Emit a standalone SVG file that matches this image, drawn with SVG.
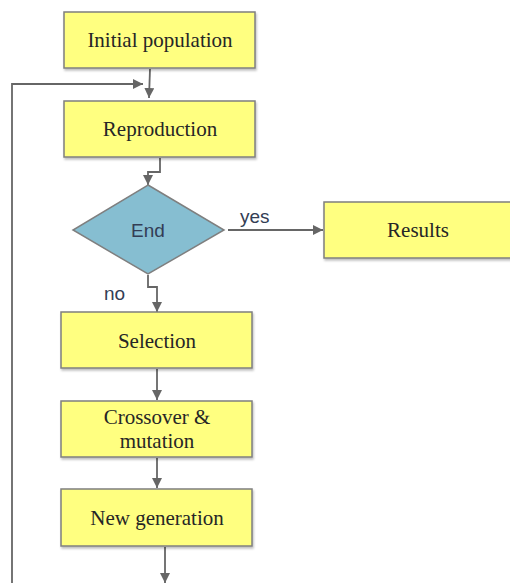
<svg xmlns="http://www.w3.org/2000/svg" width="510" height="583" viewBox="0 0 510 583">
<defs>
<marker id="arr" viewBox="0 0 10 10" refX="10" refY="5" markerWidth="10" markerHeight="10" markerUnits="userSpaceOnUse" orient="auto">
<path d="M0,0 L10,5 L0,10 z" fill="#666666"/>
</marker>
<filter id="sh" x="-5%" y="-5%" width="115%" height="125%">
<feDropShadow dx="1" dy="2" stdDeviation="1" flood-color="#000" flood-opacity="0.25"/>
</filter>
</defs>
<style>
.box{fill:#ffff80;stroke:#7f7f7f;stroke-width:1.5;filter:url(#sh)}
.dia{fill:#86bed1;stroke:#7f7f7f;stroke-width:1.5}
.lbl{font-family:"Liberation Serif",serif;font-size:21px;fill:#262626;text-anchor:middle}
.sans{font-family:"Liberation Sans",Arial,sans-serif;font-size:19px;fill:#333d55}
.conn{fill:none;stroke:#666666;stroke-width:1.8;marker-end:url(#arr)}
</style>
<g id="connectors">
<path class="conn" d="M150,69 L149,98"/>
<path class="conn" d="M12,583 L12,84 L143,84"/>
<path class="conn" d="M160,158 L160,172 L148,172 L148,185"/>
<path class="conn" d="M228,230 L323,230"/>
<path class="conn" d="M148,275 L148,287 L157,287 L157,312"/>
<path class="conn" d="M157,369 L157,400"/>
<path class="conn" d="M157,458 L157,488"/>
<path class="conn" d="M165,547 L165,583"/>
<text class="sans" x="240" y="223">yes</text>
<text class="sans" x="104" y="300">no</text>
</g>
<g id="initial">
<rect class="box" x="64" y="12" width="191" height="56"/>
<text class="lbl" x="160" y="47">Initial population</text>
</g>
<g id="reproduction">
<rect class="box" x="64" y="101" width="191" height="56"/>
<text class="lbl" x="160" y="136">Reproduction</text>
</g>
<g id="end">
<polygon class="dia" points="148,185 224,230 148,274 73,230"/>
<text class="sans" x="148" y="237" text-anchor="middle" font-size="20">End</text>
</g>
<g id="results">
<rect class="box" x="324" y="202" width="190" height="56"/>
<text class="lbl" x="418" y="237">Results</text>
</g>
<g id="selection">
<rect class="box" x="61" y="312" width="191" height="56"/>
<text class="lbl" x="157" y="348">Selection</text>
</g>
<g id="crossover">
<rect class="box" x="61" y="401" width="191" height="56"/>
<text class="lbl" x="157" y="424">Crossover &amp;</text>
<text class="lbl" x="157" y="448">mutation</text>
</g>
<g id="newgen">
<rect class="box" x="61" y="489" width="191" height="57"/>
<text class="lbl" x="157" y="525">New generation</text>
</g>
</svg>
